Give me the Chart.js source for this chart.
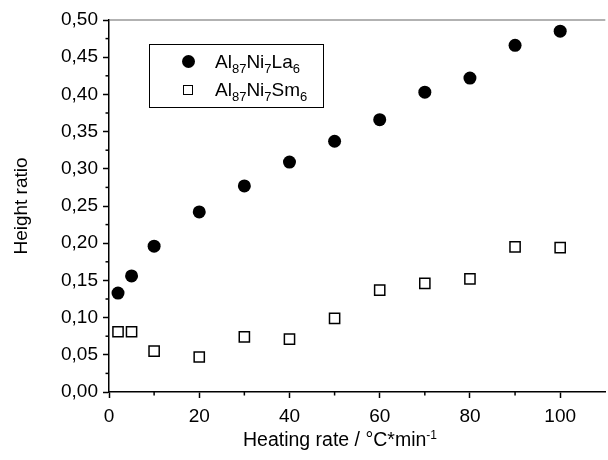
<!DOCTYPE html>
<html>
<head>
<meta charset="utf-8">
<script src="https://cdn.jsdelivr.net/npm/chart.js@4"></script>
<style>
  html, body { margin: 0; padding: 0; background: #fff; overflow: hidden; }
  #wrap { position: relative; width: 614px; height: 460px; font-family: "Liberation Sans", Arial, sans-serif; color: #000; }
  #legend {
    position: absolute; left: 149px; top: 44px; width: 175px; height: 64px;
    border: 1px solid #000; font-size: 19px; box-sizing: border-box;
  }
  .row { position: absolute; left: 0; height: 24px; line-height: 24px; white-space: nowrap; }
  .row span.txt { position: absolute; left: 65px; top: 0; }
  .row sub { font-size: 13px; vertical-align: -5px; line-height: 0; }
  .mk { position: absolute; }
  .dot { left: 32px; top: 5px; width: 13px; height: 13px; border-radius: 50%; background: #000; }
  .sq { left: 33px; top: 7px; width: 8px; height: 8px; border: 1.5px solid #000; background: #fff; }
  #xtitle {
    position: absolute; left: 180px; top: 428px; width: 320px; text-align: center;
    font-size: 19.5px; line-height: 22px; white-space: nowrap;
  }
  #xtitle sup { font-size: 12px; vertical-align: 7px; line-height: 0; }
</style>
</head>
<body>
<div id="wrap">
  <canvas id="myChart" width="614" height="460"></canvas>
  <div id="legend">
    <div class="row" style="top:5px"><div class="mk dot"></div><span class="txt">Al<sub>87</sub>Ni<sub>7</sub>La<sub>6</sub></span></div>
    <div class="row" style="top:33px"><div class="mk sq"></div><span class="txt">Al<sub>87</sub>Ni<sub>7</sub>Sm<sub>6</sub></span></div>
  </div>
  <div id="xtitle">Heating rate / °C*min<sup>-1</sup></div>
</div>
<script>
// datos
const heatingRates = [2, 5, 10, 20, 30, 40, 50, 60, 70, 80, 90, 100];
const ratioLa = [0.133, 0.156, 0.196, 0.242, 0.277, 0.309, 0.337, 0.366, 0.403, 0.422, 0.466, 0.485];
const ratioSm = [0.081, 0.081, 0.055, 0.047, 0.074, 0.071, 0.099, 0.137, 0.146, 0.152, 0.195, 0.194];
const xMinorTicks = [10, 30, 50, 70, 90];
const yMinorTicks = [0.025, 0.075, 0.125, 0.175, 0.225, 0.275, 0.325, 0.375, 0.425, 0.475];

const fuente = "'Liberation Sans', Arial, sans-serif";

function puntos(ys) {
  return heatingRates.map((x, i) => ({ x: x, y: ys[i] }));
}

// ticks menores y linea superior
const extrasPlugin = {
  id: 'extras',
  afterDraw(chart) {
    const c = chart.ctx;
    const xs = chart.scales.x;
    const ys = chart.scales.y;
    const area = chart.chartArea;
    c.save();
    c.strokeStyle = '#000';
    c.lineWidth = 1.5;
    xMinorTicks.forEach(v => {
      const px = xs.getPixelForValue(v);
      c.beginPath();
      c.moveTo(px, area.bottom);
      c.lineTo(px, area.bottom + 3.5);
      c.stroke();
    });
    yMinorTicks.forEach(v => {
      const py = ys.getPixelForValue(v);
      c.beginPath();
      c.moveTo(area.left, py);
      c.lineTo(area.left - 3.5, py);
      c.stroke();
    });
    c.strokeStyle = '#666';
    c.lineWidth = 1.2;
    c.beginPath();
    c.moveTo(area.left, area.top);
    c.lineTo(area.right, area.top);
    c.stroke();
    c.restore();
  }
};

var ctx = document.getElementById('myChart').getContext('2d');
var myChart = new Chart(ctx, {
  type: 'scatter',
  data: {
    datasets: [{
      label: 'Al87Ni7La6',
      data: puntos(ratioLa),
      pointStyle: 'circle',
      pointRadius: 6.5,
      backgroundColor: '#000',
      borderColor: '#000',
      borderWidth: 0
    }, {
      label: 'Al87Ni7Sm6',
      data: puntos(ratioSm),
      pointStyle: 'rect',
      pointRadius: 7.2,
      backgroundColor: '#fff',
      borderColor: '#000',
      borderWidth: 1.5
    }]
  },
  options: {
    responsive: false,
    animation: false,
    layout: { padding: { top: 20, right: 0, left: 0, bottom: 0 } },
    plugins: {
      legend: { display: false },
      tooltip: { enabled: false }
    },
    scales: {
      x: {
        type: 'linear',
        min: 0,
        max: 110,
        afterFit(scale) { scale.height = 68; },
        border: { display: true, color: '#000', width: 1.5 },
        grid: { drawOnChartArea: false, tickLength: 6, tickColor: '#000', tickWidth: 1.5 },
        ticks: {
          stepSize: 20,
          includeBounds: false,
          padding: 7,
          color: '#000',
          font: { family: fuente, size: 19 }
        }
      },
      y: {
        type: 'linear',
        min: 0,
        max: 0.5,
        afterFit(scale) { scale.width = 109; },
        border: { display: true, color: '#000', width: 1.5 },
        grid: { drawOnChartArea: false, tickLength: 6, tickColor: '#000', tickWidth: 1.5 },
        ticks: {
          stepSize: 0.05,
          padding: 5,
          color: '#000',
          font: { family: fuente, size: 19 },
          callback: v => v.toFixed(2).replace('.', ',')
        },
        title: {
          display: true,
          text: 'Height ratio',
          color: '#000',
          font: { family: fuente, size: 19 },
          padding: { top: 10, bottom: 0 }
        }
      }
    }
  },
  plugins: [extrasPlugin]
});
</script>
</body>
</html>
